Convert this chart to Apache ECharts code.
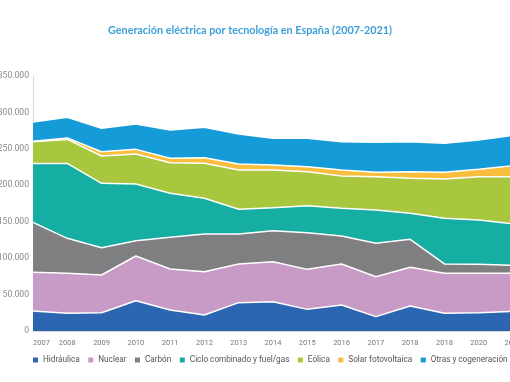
<!DOCTYPE html>
<html>
<head>
<meta charset="utf-8">
<script src="https://cdn.jsdelivr.net/npm/echarts@6/dist/echarts.min.js"></script>
<style>
html,body{margin:0;padding:0;background:#fff;}
#chart{width:510px;height:382px;}
</style>
</head>
<body>
<div id="chart"></div>
<script>
var categories = ['2007','2008','2009','2010','2011','2012','2013','2014','2015','2016','2017','2018','2019','2020','2021'];
var tickLabels = ['2007','2008','2009','2010','2011','2012','2013','2014','2015','2016','2017','2018','2018','2020','2021'];
var seriesNames = ['Hidráulica','Nuclear','Carbón','Ciclo combinado y fuel/gas','Eólica','Solar fotovoltaica','Otras y cogeneración'];
var hidraulica = [27500,24300,25100,41600,28800,22000,38900,40200,29700,35700,19700,34300,24300,25100,27100];
var nuclear    = [53100,54900,51800,61300,56300,59400,53100,54900,54900,56300,54800,53100,54900,54100,52100];
var carbon     = [68400,48000,37500,21100,43500,51700,41100,42600,50400,38400,45800,38400,12800,12300,11000];
var ciclo      = [81000,102800,88300,77800,60400,49000,33900,31500,37000,38000,45800,35700,62700,60800,56800];
var eolica     = [29800,33000,37500,41100,42000,48100,54000,51800,46700,44300,45700,48000,53900,59500,64800];
var solar      = [800,2000,5900,6400,6000,7700,8200,6800,6800,8300,6000,9200,9200,10200,15200];
var otras      = [26100,28400,32100,34800,38900,41700,41200,36700,39000,38800,41200,41100,39800,40100,41700];
var yTicks = [0,50000,100000,150000,200000,250000,300000,350000];

var colors = ['#2c66b0','#c89ac6','#7f7f81','#16ada2','#a8c63e','#f9bd3d','#159bd7'];
var values = [hidraulica,nuclear,carbon,ciclo,eolica,solar,otras];

var chart = echarts.init(document.getElementById('chart'));
var series = seriesNames.map(function(name,i){
  return {
    name: name,
    type: 'line',
    stack: 'total',
    data: values[i],
    symbol: 'none',
    smooth: false,
    lineStyle: {color:'#ffffff', width:1.5},
    itemStyle: {color: colors[i]},
    areaStyle: {color: colors[i], opacity: 1},
    z: 2 + (seriesNames.length - i) * 0.01
  };
});
chart.setOption({
  animation: false,
  backgroundColor: '#ffffff',
  title: {
    text: 'Generación eléctrica por tecnología en España (2007-2021)',
    left: 103,
    top: 20,
    textStyle: {fontFamily: 'Lato', fontWeight: 'bold', fontSize: 10.8, color: '#3ea0d8'}
  },
  grid: {left: 33, right: -3, top: 76, bottom: 51, containLabel: false, outerBoundsMode: 'none'},
  xAxis: {
    type: 'category',
    data: categories,
    boundaryGap: false,
    axisTick: {show: false},
    axisLine: {show: true, lineStyle: {color: '#d9d9d9', width: 1}},
    splitLine: {show: false},
    axisLabel: {
      interval: 0,
      margin: 8,
      fontFamily: 'Roboto',
      fontSize: 7.5,
      color: '#777777',
      alignMinLabel: 'left',
      hideOverlap: false,
      formatter: function(v, idx){ return tickLabels[idx]; }
    }
  },
  yAxis: {
    type: 'value',
    min: yTicks[0],
    max: yTicks[yTicks.length-1],
    interval: 50000,
    axisLine: {show: true, lineStyle: {color: '#d9d9d9', width: 1}},
    axisTick: {show: false},
    splitLine: {show: false},
    axisLabel: {
      margin: 4,
      fontFamily: 'Roboto',
      fontSize: 8.6,
      color: '#8a8a8a',
      formatter: function(v){ return v === 0 ? '0' : String(v).replace(/\B(?=(\d{3})+(?!\d))/g, '.'); }
    }
  },
  legend: {
    data: seriesNames,
    left: 30,
    top: 351,
    width: 520,
    padding: [5, 0, 5, 3],
    icon: 'rect',
    itemWidth: 5,
    itemHeight: 5,
    itemGap: 8.5,
    textStyle: {fontFamily: 'Roboto', fontSize: 8.2, color: '#555555'}
  },
  series: series
});
</script>
</body>
</html>
